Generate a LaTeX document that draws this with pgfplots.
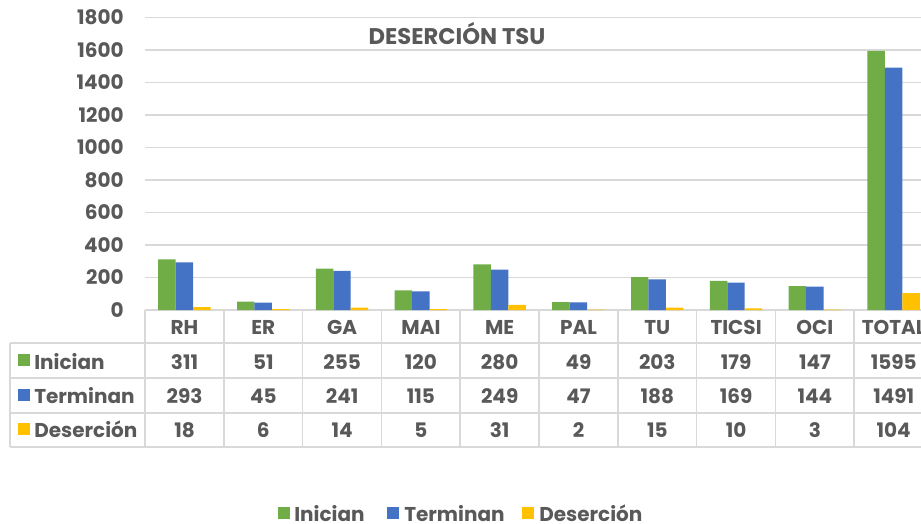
\documentclass[border=0pt]{standalone}
\usepackage{pgfplots}
\pgfplotsset{compat=1.18}
\usepackage{fontspec}
\setmainfont{Poppins}
\definecolor{cgreen}{HTML}{70AD47}
\definecolor{cblue}{HTML}{4472C4}
\definecolor{cyellow}{HTML}{FFC000}
\definecolor{ctext}{HTML}{595959}
\definecolor{cgrid}{HTML}{D9D9D9}
\newcommand{\tf}{\bfseries\fontsize{15}{17}\selectfont}
\begin{document}
\begin{tikzpicture}[x=0.75pt,y=0.75pt]
\clip (0,0) rectangle (921,-524);
\begin{axis}[
  at={(108.75pt,-232.5pt)}, anchor=south west,
  scale only axis, width=591pt, height=219.4pt,
  xmin=-0.5, xmax=9.5, ymin=0, ymax=1800,
  ytick={0,200,...,1800},
  xtick=\empty,
  axis line style={draw=none},
  major tick length=0pt,
  ymajorgrids, grid style={cgrid, line width=1.2pt},
  ybar=0pt, bar width=13.1pt,
  /pgf/number format/1000 sep={},
  /pgf/number format/assume math mode=true,
  yticklabel style={font=\tf, text=ctext, anchor=east, inner sep=0pt, xshift=-15.75pt},
  clip=false,
]
\addplot[fill=cgreen, draw=none] coordinates {(0,311) (1,51) (2,255) (3,120) (4,280) (5,49) (6,203) (7,179) (8,147) (9,1595)};
\addplot[fill=cblue, draw=none] coordinates {(0,293) (1,45) (2,241) (3,115) (4,249) (5,47) (6,188) (7,169) (8,144) (9,1491)};
\addplot[fill=cyellow, draw=none] coordinates {(0,18) (1,6) (2,14) (3,5) (4,31) (5,2) (6,15) (7,10) (8,3) (9,104)};
\end{axis}
% title
\node[anchor=base, font=\bfseries\fontsize{17}{19}\selectfont, text=ctext, inner sep=0pt] at (457,-44.3) {DESERCIÓN TSU};
% table lines
\foreach \k in {0,...,10} {
  \draw[cgrid, line width=1.2pt] ({145+\k*78.8},-310) -- ({145+\k*78.8},-447);
}
\foreach \yy in {343,378,412.7,447} {
  \draw[cgrid, line width=1.2pt] (10,-\yy) -- (940,-\yy);
}
\draw[cgrid, line width=1.2pt] (10,-343) -- (10,-447);
% categories
\foreach \c [count=\i from 0] in {RH,ER,GA,MAI,ME,PAL,TU,TICSI,OCI,TOTAL} {
  \node[anchor=base, font=\tf, text=ctext, inner sep=0pt] at ({184.5+\i*78.8},-334.3) {\c};
}
\foreach \v [count=\i from 0] in {311,51,255,120,280,49,203,179,147,1595} {
  \node[anchor=base, font=\tf, text=ctext, inner sep=0pt] at ({184.5+\i*78.8},-369) {\v};
}
\foreach \v [count=\i from 0] in {293,45,241,115,249,47,188,169,144,1491} {
  \node[anchor=base, font=\tf, text=ctext, inner sep=0pt] at ({184.5+\i*78.8},-403.3) {\v};
}
\foreach \v [count=\i from 0] in {18,6,14,5,31,2,15,10,3,104} {
  \node[anchor=base, font=\tf, text=ctext, inner sep=0pt] at ({184.5+\i*78.8},-437.7) {\v};
}
% row labels
\fill[cgreen] (18,-354) rectangle (30,-366);
\node[anchor=base west, font=\tf, text=ctext, inner sep=0pt] at (34,-369) {Inician};
\fill[cblue] (18,-388.5) rectangle (30,-400.5);
\node[anchor=base west, font=\tf, text=ctext, inner sep=0pt] at (34,-403.3) {Terminan};
\fill[cyellow] (18,-423) rectangle (30,-435);
\node[anchor=base west, font=\tf, text=ctext, inner sep=0pt] at (34,-437.7) {Deserción};
% legend
\fill[cgreen] (278,-507) rectangle (290,-519);
\node[anchor=base west, font=\tf, text=ctext, inner sep=0pt] at (294,-521) {Inician};
\fill[cblue] (387,-507) rectangle (399,-519);
\node[anchor=base west, font=\tf, text=ctext, inner sep=0pt] at (404,-521) {Terminan};
\fill[cyellow] (522,-507) rectangle (534,-519);
\node[anchor=base west, font=\tf, text=ctext, inner sep=0pt] at (539,-521) {Deserción};
\end{tikzpicture}
\end{document}
